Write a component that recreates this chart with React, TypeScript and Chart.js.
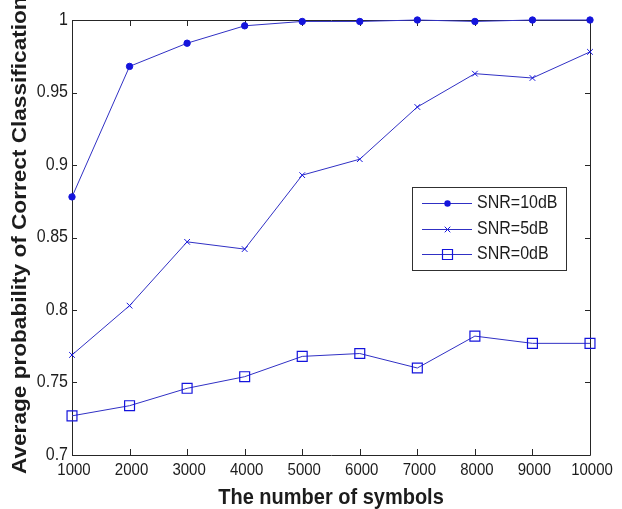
import { useEffect, useRef } from 'react';
import { Chart, registerables } from 'chart.js';

Chart.register(...registerables);

// Number of transmitted symbols (x axis)
const symbols = [1000, 2000, 3000, 4000, 5000, 6000, 7000, 8000, 9000, 10000];

// Average probability of correct classification per SNR
const snr10 = [0.878, 0.968, 0.984, 0.996, 0.999, 0.999, 1.0, 0.999, 1.0, 1.0];
const snr5 = [0.769, 0.803, 0.847, 0.842, 0.893, 0.904, 0.94, 0.963, 0.96, 0.978];
const snr0 = [0.727, 0.734, 0.746, 0.754, 0.768, 0.77, 0.76, 0.782, 0.777, 0.777];

const seriesLabels = ['SNR=10dB', 'SNR=5dB', 'SNR=0dB'];

const xTicks = [1000, 2000, 3000, 4000, 5000, 6000, 7000, 8000, 9000, 10000];
const yTicks = [0.7, 0.75, 0.8, 0.85, 0.9, 0.95, 1];

const xTitle = 'The number of symbols';
const yTitle = 'Average probability of Correct Classification';

const FONT = '"Liberation Sans", Arial, sans-serif';
const TEXT = '#1c1c1c';
const AXIS = '#262626';
const LINE = '#3030c4';
const MARK = '#1414dc';
// glyphs in this figure are drawn slightly taller than wide
const STRETCH = 1.13;

function drawText(
  ctx: CanvasRenderingContext2D,
  text: string,
  x: number,
  y: number,
  font: string,
  align: CanvasTextAlign,
  baseline: CanvasTextBaseline,
  rot = 0,
  sx = 1,
  sy = STRETCH
) {
  ctx.save();
  ctx.translate(x, y);
  if (rot) ctx.rotate(rot);
  ctx.scale(sx, sy);
  ctx.font = font;
  ctx.textAlign = align;
  ctx.textBaseline = baseline;
  ctx.fillStyle = TEXT;
  ctx.fillText(text, 0, 0);
  ctx.restore();
}

const px = (v: number) => Math.round(v) + 0.5;

// Legend sample marker for a given point style
function drawMarker(ctx: CanvasRenderingContext2D, style: string, x: number, y: number) {
  ctx.save();
  ctx.strokeStyle = MARK;
  ctx.fillStyle = MARK;
  ctx.lineWidth = 1;
  ctx.beginPath();
  if (style === 'circle') {
    ctx.arc(x, y, 3.2, 0, Math.PI * 2);
    ctx.fill();
  } else if (style === 'crossRot') {
    const r = 2.8;
    ctx.moveTo(x - r, y - r);
    ctx.lineTo(x + r, y + r);
    ctx.moveTo(x - r, y + r);
    ctx.lineTo(x + r, y - r);
    ctx.stroke();
  } else {
    ctx.lineWidth = 1.2;
    ctx.rect(x - 5, y - 5, 10, 10);
    ctx.stroke();
  }
  ctx.restore();
}

// Box with inward ticks on all four sides, tick labels, titles and legend
const framePlugin = {
  id: 'frame',
  beforeDatasetsDraw(chart: any) {
    const { ctx, chartArea: a, scales } = chart;
    const xs = scales.x;
    const ys = scales.y;
    ctx.save();
    ctx.strokeStyle = AXIS;
    ctx.lineWidth = 1;
    ctx.beginPath();
    ctx.rect(px(a.left), px(a.top), Math.round(a.right - a.left), Math.round(a.bottom - a.top));
    for (const v of xTicks) {
      const x = px(xs.getPixelForValue(v));
      ctx.moveTo(x, a.bottom);
      ctx.lineTo(x, a.bottom - 6);
      ctx.moveTo(x, a.top);
      ctx.lineTo(x, a.top + 6);
    }
    for (const v of yTicks) {
      const y = px(ys.getPixelForValue(v));
      ctx.moveTo(a.left, y);
      ctx.lineTo(a.left + 5, y);
      ctx.moveTo(a.right, y);
      ctx.lineTo(a.right - 5, y);
    }
    ctx.stroke();
    ctx.restore();
  },
  afterDraw(chart: any) {
    const { ctx, chartArea: a, scales } = chart;
    const xs = scales.x;
    const ys = scales.y;

    // tick labels
    for (const v of yTicks) {
      drawText(ctx, String(v), a.left - 4, ys.getPixelForValue(v), `16px ${FONT}`, 'right', 'middle');
    }
    for (const v of xTicks) {
      drawText(ctx, String(v), xs.getPixelForValue(v) + 2, a.bottom + 15, `15px ${FONT}`, 'center', 'middle');
    }

    // axis titles
    drawText(ctx, xTitle, (a.left + a.right) / 2, 504, `bold 20px ${FONT}`, 'center', 'alphabetic');
    drawText(ctx, yTitle, 26, 474, `bold 20px ${FONT}`, 'left', 'alphabetic', -Math.PI / 2, STRETCH, 1);

    // legend
    const lx = 412.5;
    const ly = 187.5;
    ctx.save();
    ctx.fillStyle = '#ffffff';
    ctx.strokeStyle = '#303030';
    ctx.lineWidth = 1;
    ctx.fillRect(lx, ly, 154, 83);
    ctx.strokeRect(lx, ly, 154, 83);
    ctx.restore();

    const rows = [203, 229, 254];
    chart.data.datasets.forEach((ds: any, i: number) => {
      const y = rows[i] + 0.5;
      ctx.save();
      ctx.strokeStyle = ds.borderColor;
      ctx.lineWidth = 1;
      ctx.beginPath();
      ctx.moveTo(422, y);
      ctx.lineTo(472, y);
      ctx.stroke();
      ctx.restore();
      drawMarker(ctx, ds.pointStyle, 447.5, y);
      drawText(ctx, ds.label, 477, rows[i], `16px ${FONT}`, 'left', 'middle');
    });
  },
};

export default function App() {
  const ref = useRef<HTMLCanvasElement | null>(null);

  useEffect(() => {
    if (!ref.current) return;
    const toXY = (vals: number[]) => symbols.map((x, i) => ({ x, y: vals[i] }));

    const chart = new Chart(ref.current, {
      type: 'line',
      data: {
        datasets: [
          {
            label: seriesLabels[0],
            data: toXY(snr10),
            borderColor: LINE,
            borderWidth: 1,
            pointStyle: 'circle',
            pointRadius: 3.2,
            pointBorderWidth: 1,
            pointBackgroundColor: MARK,
            pointBorderColor: MARK,
          },
          {
            label: seriesLabels[1],
            data: toXY(snr5),
            borderColor: LINE,
            borderWidth: 1,
            pointStyle: 'crossRot',
            pointRadius: 4,
            pointBorderWidth: 1,
            pointBackgroundColor: 'rgba(0,0,0,0)',
            pointBorderColor: MARK,
          },
          {
            label: seriesLabels[2],
            data: toXY(snr0),
            borderColor: LINE,
            borderWidth: 1,
            pointStyle: 'rect',
            pointRadius: 7,
            pointBorderWidth: 1.2,
            pointBackgroundColor: 'rgba(0,0,0,0)',
            pointBorderColor: MARK,
          },
        ],
      },
      options: {
        responsive: false,
        animation: false,
        events: [],
        layout: { padding: { left: 0, top: 20, right: 32, bottom: 0 } },
        elements: { line: { tension: 0 } },
        datasets: { line: { clip: false } as any },
        plugins: {
          legend: { display: false },
          tooltip: { enabled: false },
          title: { display: false },
        },
        scales: {
          x: {
            type: 'linear',
            min: 1000,
            max: 10000,
            grid: { display: false },
            border: { display: false },
            ticks: { display: false },
            afterFit: (s: any) => {
              s.height = 54;
            },
          },
          y: {
            type: 'linear',
            min: 0.7,
            max: 1,
            grid: { display: false },
            border: { display: false },
            ticks: { display: false },
            afterFit: (s: any) => {
              s.width = 72;
            },
          },
        },
      },
      plugins: [framePlugin],
    });

    return () => chart.destroy();
  }, []);

  return (
    <div style={{ position: 'absolute', left: 0, top: 0, width: 622, height: 509, background: '#ffffff' }}>
      <canvas ref={ref} width={622} height={509} style={{ display: 'block' }} />
    </div>
  );
}
